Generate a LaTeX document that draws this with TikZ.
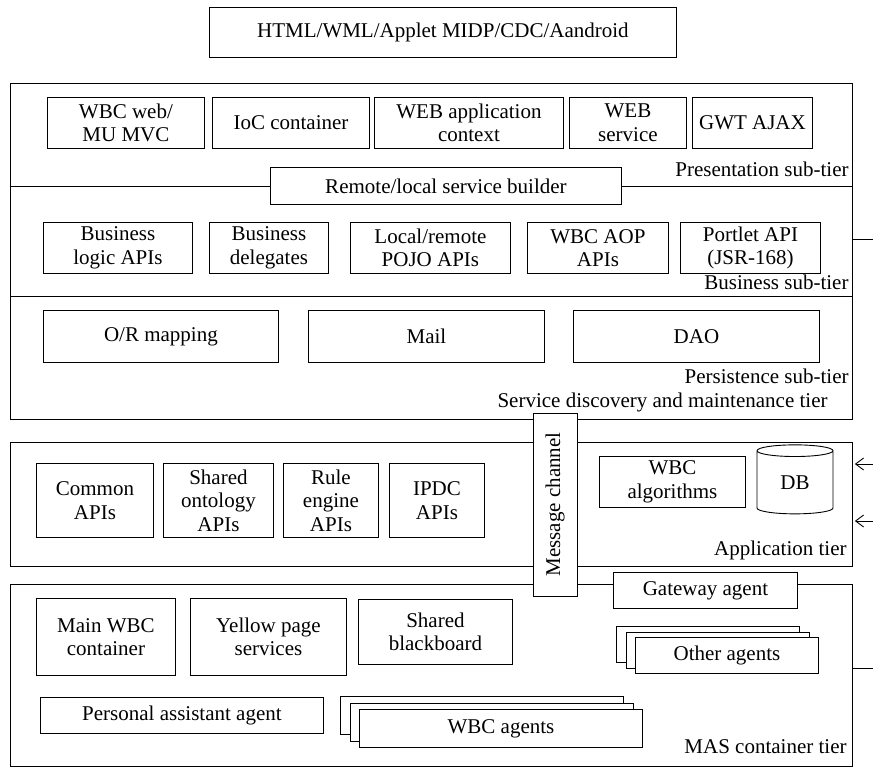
\documentclass[tikz,border=0pt]{standalone}
\usepackage{fontspec}
\setmainfont{Liberation Serif}
\usetikzlibrary{shapes.geometric,arrows.meta}

\tikzset{
  box/.style={draw, fill=white, anchor=north west, inner sep=0pt, align=center},
  tier/.style={draw, anchor=north west, inner sep=0pt},
  tierlabel/.style={anchor=base east, inner sep=0pt},
}

\begin{document}
\begin{tikzpicture}[x=1pt,y=-1pt,line width=0.9pt,font=\fontsize{21}{23.5}\selectfont,
    >={Straight Barb[length=8pt,width=12pt,line width=0.9pt]}]
    \useasboundingbox (0,0) rectangle (873,767);

    % client side
    \node[box, minimum width=467pt, minimum height=50pt] (client) at (209,7) {HTML/WML/Applet MIDP/CDC/Aandroid};

    % the three tiers
    \node[tier, minimum width=842pt, minimum height=336pt] (sdm) at (10,83) {};
    \node[tier, minimum width=842pt, minimum height=124pt] (app) at (10,442) {};
    \node[tier, minimum width=842pt, minimum height=182pt] (mas) at (10,584) {};

    \coordinate (presline) at (10,186);
    \coordinate (bizline)  at (10,296);
    \draw (presline) -- (presline -| sdm.east);
    \draw (bizline) -- (bizline -| sdm.east);

    % links on the right
    \coordinate (sdmout) at (873,239);
    \coordinate (masout) at (873,668);
    \coordinate (appin1) at (873,464);
    \coordinate (appin2) at (873,521);
    \draw (sdmout -| sdm.east) -- (sdmout);
    \draw (masout -| mas.east) -- (masout);
    \draw[->] (appin1) -- ([xshift=2pt]appin1 -| app.east);
    \draw[->] (appin2) -- ([xshift=2pt]appin2 -| app.east);

    % presentation sub-tier
    \node[box, minimum width=157pt, minimum height=51pt] (mvc)    at (47,97)  {WBC web/\\MU MVC};
    \node[box, minimum width=157pt, minimum height=51pt] (ioc)    at (212,97) {IoC container};
    \node[box, minimum width=189pt, minimum height=51pt] (webctx) at (374,97) {WEB application\\context};
    \node[box, minimum width=117pt, minimum height=51pt] (websvc) at (569,97) {WEB\\service};
    \node[box, minimum width=120pt, minimum height=51pt] (gwt)    at (692,97) {GWT AJAX};
    \node[box, minimum width=351pt, minimum height=37pt] (remote) at (270,167) {Remote/local service builder};
    \node[tierlabel] (preslbl) at (849,177) {Presentation sub-tier};

    % business sub-tier
    \node[box, minimum width=149pt, minimum height=51pt] (bizlogic) at (43,222)  {Business\\logic APIs};
    \node[box, minimum width=119pt, minimum height=51pt] (bizdel)   at (209,222) {Business\\delegates};
    \node[box, minimum width=160pt, minimum height=51pt] (pojo)     at (350,222) {Local/remote\\POJO APIs};
    \node[box, minimum width=141pt, minimum height=51pt] (aop)      at (527,222) {WBC AOP\\APIs};
    \node[box, minimum width=140pt, minimum height=51pt] (portlet)  at (680,222) {Portlet API\\(JSR-168)};
    \node[tierlabel] (bizlbl) at (849,290) {Business sub-tier};

    % persistence sub-tier
    \node[box, minimum width=235pt, minimum height=52pt] (orm)  at (43,310)  {O/R mapping};
    \node[box, minimum width=236pt, minimum height=52pt] (mail) at (308,310) {Mail};
    \node[box, minimum width=246pt, minimum height=52pt] (dao)  at (573,310) {DAO};
    \node[tierlabel] (perslbl) at (849,384) {Persistence sub-tier};
    \node[tierlabel] (sdmlbl)  at (828,407) {Service discovery and maintenance tier};

    % application tier
    \node[box, minimum width=117pt, minimum height=74pt] (common)   at (36,463)  {Common\\APIs};
    \node[box, minimum width=110pt, minimum height=74pt] (ontology) at (163,463) {Shared\\ontology\\APIs};
    \node[box, minimum width=95pt,  minimum height=74pt] (rule)     at (283,463) {Rule\\engine\\APIs};
    \node[box, minimum width=95pt,  minimum height=74pt] (ipdc)     at (389,463) {IPDC\\APIs};
    \node[box, minimum width=146pt, minimum height=51pt] (wbcalg)   at (599,456) {WBC\\algorithms};
    \node[draw, fill=white, cylinder, shape border rotate=90, aspect=0.4, inner sep=0pt,
          minimum width=76pt, minimum height=69pt] (db) at (795,482.5) {DB};
    \node[tierlabel] (applbl) at (847,555) {Application tier};

    % MAS container tier
    \node[box, minimum width=139pt, minimum height=77pt] (mainwbc)    at (36,598)  {Main WBC\\container};
    \node[box, minimum width=156pt, minimum height=77pt] (yellow)     at (190,598) {Yellow page\\services};
    \node[box, minimum width=154pt, minimum height=65pt] (blackboard) at (358,599) {Shared\\blackboard};
    \node[box, minimum width=184pt, minimum height=36pt] (gateway)    at (613,572) {Gateway agent};
    \node[box, minimum width=183pt, minimum height=36pt] (other1) at (616,626) {};
    \node[box, minimum width=183pt, minimum height=36pt] (other2) at (625.5,631.5) {};
    \node[box, minimum width=183pt, minimum height=36pt] (other3) at (635,637) {Other agents};
    \node[box, minimum width=283pt, minimum height=36pt] (personal) at (40,697) {Personal assistant agent};
    \node[box, minimum width=283pt, minimum height=38pt] (wbcag1) at (340,696) {};
    \node[box, minimum width=283pt, minimum height=38pt] (wbcag2) at (349.5,702.5) {};
    \node[box, minimum width=283pt, minimum height=38pt] (wbcag3) at (359,709) {WBC agents};
    \node[tierlabel] (maslbl) at (847,753) {MAS container tier};

    % message channel across the tiers
    \node[draw, fill=white, rotate=90, inner sep=0pt, minimum width=183pt, minimum height=44pt] (msgch) at (555,504.5) {Message channel};

  \end{tikzpicture}
\end{document}
